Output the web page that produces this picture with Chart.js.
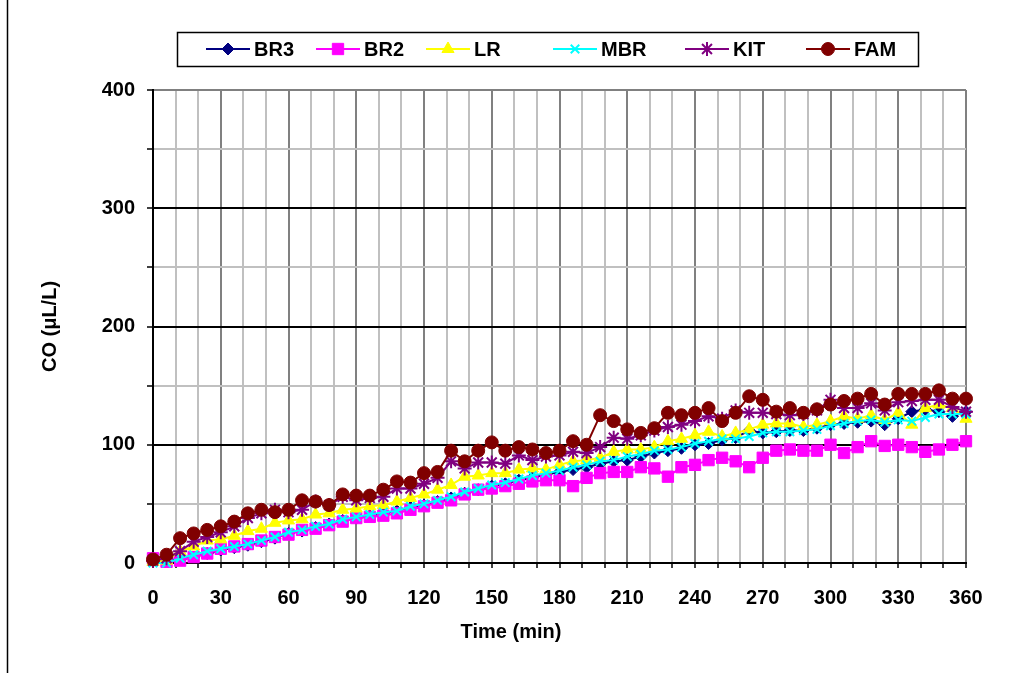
<!DOCTYPE html>
<html>
<head>
<meta charset="utf-8">
<script src="https://cdn.jsdelivr.net/npm/chart.js@4/dist/chart.umd.min.js"></script>
<style>
  body { margin: 0; background: #fff; }
  #wrap { width: 1018px; height: 673px; }
</style>
</head>
<body>
<div id="wrap"><canvas id="coChart" width="1018" height="673"></canvas></div>
<script>
// sampling times (min)
const times = [0, 6, 12, 18, 24, 30, 36, 42, 48, 54, 60, 66, 72, 78, 84, 90, 96, 102, 108, 114,
  120, 126, 132, 138, 144, 150, 156, 162, 168, 174, 180, 186, 192, 198, 204, 210, 216, 222, 228, 234,
  240, 246, 252, 258, 264, 270, 276, 282, 288, 294, 300, 306, 312, 318, 324, 330, 336, 342, 348, 354, 360];

// CO readings (uL/L)
const br3 = [2, 2, 3, 5, 8, 11, 13, 15, 18, 21, 25, 27, 30, 33, 36, 38, 40, 42, 44, 47,
  49, 52, 55, 59, 62, 65, 67, 70, 72, 75, 77, 79, 81, 84, 86, 87, 90, 93, 95, 97,
  100, 101, 104, 106, 112, 110, 111, 112, 112, 114, 117, 118, 119, 120, 117, 122, 128, 130, 128, 124, 128];
const br2 = [4, 1, 2, 5, 8, 12, 14, 16, 19, 22, 24, 28, 29, 32, 35, 38, 39, 40, 42, 45,
  48, 51, 53, 58, 62, 63, 65, 67, 69, 70, 70, 65, 72, 76, 77, 77, 81, 80, 73, 81,
  83, 87, 89, 86, 81, 89, 95, 96, 95, 95, 100, 93, 98, 103, 99, 100, 98, 94, 96, 100, 103];
const lr = [1, 2, 10, 14, 19, 20, 23, 27, 29, 34, 36, 37, 41, 42, 45, 46, 48, 49, 52, 55,
  58, 62, 66, 73, 74, 76, 76, 79, 80, 79, 83, 86, 87, 89, 94, 96, 96, 98, 103, 105,
  108, 111, 107, 110, 113, 117, 118, 118, 115, 117, 120, 124, 122, 125, 121, 127, 117, 131, 134, 131, 122];
const mbr = [0, 0, 4, 7, 10, 12, 14, 16, 19, 22, 26, 28, 31, 33, 37, 39, 41, 43, 44, 48,
  50, 53, 56, 60, 63, 66, 68, 71, 74, 76, 78, 81, 83, 86, 87, 90, 92, 95, 96, 98,
  101, 103, 105, 105, 107, 110, 111, 111, 112, 113, 116, 118, 120, 121, 119, 121, 120, 123, 126, 126, 126];
const kit = [2, 4, 10, 18, 22, 26, 31, 38, 42, 45, 43, 45, 52, 49, 56, 53, 55, 56, 63, 63,
  67, 72, 86, 80, 85, 85, 84, 91, 87, 90, 91, 94, 93, 98, 106, 105, 108, 112, 115, 117,
  120, 124, 122, 129, 127, 127, 126, 125, 126, 129, 138, 131, 131, 135, 129, 136, 137, 138, 138, 132, 128];
const fam = [3, 7, 21, 25, 28, 31, 35, 42, 45, 43, 45, 53, 52, 49, 58, 57, 57, 62, 69, 68,
  76, 77, 95, 86, 95, 102, 95, 98, 96, 93, 95, 103, 100, 125, 120, 113, 110, 114, 127, 125,
  127, 131, 120, 127, 141, 138, 128, 131, 127, 130, 134, 137, 139, 143, 134, 143, 143, 143, 146, 139, 139];

const seriesNames = ['BR3', 'BR2', 'LR', 'MBR', 'KIT', 'FAM'];
const seriesColors = ['#000080', '#FF00FF', '#FFFF00', '#00FFFF', '#800080', '#800000'];
const seriesStyles = ['rectRot', 'rect', 'triangle', 'crossRot', 'star', 'circle'];
const seriesRadius = [6, 8, 7, 6, 7, 6.5];
const seriesValues = [br3, br2, lr, mbr, kit, fam];

const FONT = 'Arial, "Liberation Sans", sans-serif';

const datasets = seriesNames.map((name, i) => ({
  label: name,
  data: times.map((t, k) => ({ x: t, y: seriesValues[i][k] })),
  borderColor: seriesColors[i],
  backgroundColor: seriesColors[i],
  borderWidth: 2,
  pointStyle: seriesStyles[i],
  pointRadius: seriesRadius[i],
  pointBorderColor: seriesColors[i],
  pointBackgroundColor: seriesColors[i],
  pointBorderWidth: (i === 3 || i === 4) ? 2 : 1,
  tension: 0,
  clip: false,
  order: 5 - i   // later series drawn on top, like the original
}));

// frame, legend box and x title drawn by hand
const framePlugin = {
  id: 'frame',
  afterDraw(chart) {
    const ctx = chart.ctx;
    ctx.save();
    ctx.strokeStyle = '#000';
    ctx.lineWidth = 1.5;
    ctx.beginPath();
    ctx.moveTo(7.5, 0);
    ctx.lineTo(7.5, 673);
    ctx.stroke();

    ctx.font = 'bold 20px ' + FONT;
    ctx.fillStyle = '#000';
    ctx.textAlign = 'center';
    ctx.textBaseline = 'middle';
    ctx.fillText('Time (min)', 511, 632);

    // legend
    ctx.textAlign = 'left';
    ctx.lineWidth = 1.5;
    ctx.strokeRect(177.5, 32.5, 741, 34);
    const markX = [228, 338, 448, 575, 707, 828];
    const ly = 49;
    seriesNames.forEach((name, i) => {
      ctx.strokeStyle = seriesColors[i];
      ctx.fillStyle = seriesColors[i];
      ctx.lineWidth = 2;
      ctx.beginPath();
      ctx.moveTo(markX[i] - 22, ly);
      ctx.lineTo(markX[i] + 22, ly);
      ctx.stroke();
      ctx.lineWidth = (i === 3 || i === 4) ? 2 : 1;
      Chart.helpers.drawPoint(ctx, {
        pointStyle: seriesStyles[i],
        radius: seriesRadius[i],
        rotation: 0,
        borderWidth: ctx.lineWidth
      }, markX[i], ly);
      ctx.fillStyle = '#000';
      ctx.fillText(name, markX[i] + 26, ly + 1);
    });
    ctx.restore();
  }
};

new Chart(document.getElementById('coChart'), {
  type: 'line',
  data: { datasets: datasets },
  options: {
    responsive: false,
    animation: false,
    layout: { padding: { left: 10, right: 52, top: 90, bottom: 10 } },
    plugins: {
      legend: { display: false },
      tooltip: { enabled: false }
    },
    scales: {
      x: {
        type: 'linear',
        min: 0,
        max: 360,
        afterFit: (scale) => { scale.height = 100; },
        ticks: {
          stepSize: 10,
          autoSkip: false,
          maxRotation: 0,
          padding: 18,
          color: '#000',
          font: { family: FONT, size: 20, weight: 'bold' },
          callback: (v) => (v % 30 === 0 ? v : '')
        },
        grid: {
          color: (c) => (c.tick && c.tick.value % 30 === 0 ? '#808080' : '#c0c0c0'),
          lineWidth: 2,
          tickColor: '#000',
          tickLength: 5,
          tickWidth: 1.5
        },
        border: { color: '#000', width: 2 },
        title: { display: false }
      },
      y: {
        min: 0,
        max: 400,
        afterFit: (scale) => { scale.width = 143; },
        ticks: {
          stepSize: 50,
          padding: 12,
          color: '#000',
          font: { family: FONT, size: 20, weight: 'bold' },
          callback: (v) => (v % 100 === 0 ? v : '')
        },
        grid: {
          color: (c) => {
            const v = c.tick ? c.tick.value : 0;
            if (v === 400) return '#808080';
            return v % 100 === 0 ? '#000' : '#c0c0c0';
          },
          lineWidth: 2,
          tickColor: '#000',
          tickLength: 6,
          tickWidth: 1.5
        },
        border: { color: '#000', width: 2 },
        title: {
          display: true,
          text: 'CO (\u03bcL/L)',
          color: '#000',
          font: { family: FONT, size: 20, weight: 'bold' },
          padding: { top: 28, bottom: 0 }
        }
      }
    }
  },
  plugins: [framePlugin]
});
</script>
</body>
</html>
